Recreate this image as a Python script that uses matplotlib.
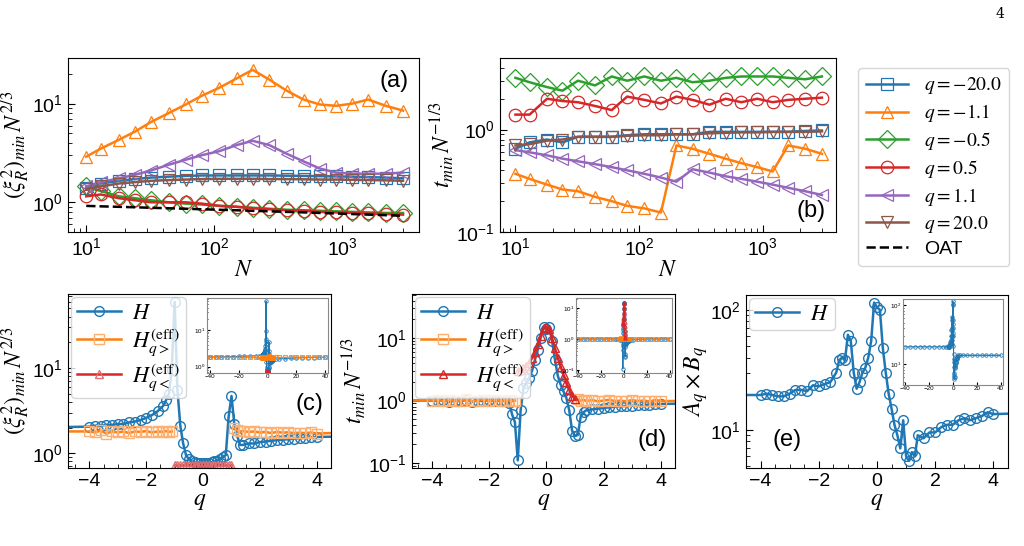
import numpy as np
import matplotlib
matplotlib.use("Agg")
import matplotlib.pyplot as plt

plt.rcParams['font.family'] = ['Liberation Sans', 'DejaVu Sans']
plt.rcParams['mathtext.fontset'] = 'stix'

# ---------------- data: top panels ----------------
N = [10, 13, 18, 24, 32, 44, 60, 80, 110, 150, 200, 270, 370, 500, 670, 900, 1200, 1600, 2200, 3000]
q_labels = ["$q=-20.0$", "$q=-1.1$", "$q=-0.5$", "$q=0.5$", "$q=1.1$", "$q=20.0$"]
markers = ['s', '^', 'D', 'o', '<', 'v']
colors = ['C0', 'C1', 'C2', 'C3', 'C4', 'C5']

xi_m20 = [1.4, 1.55, 1.65, 1.72, 1.78, 1.82, 1.85, 1.87, 1.87, 1.87, 1.87, 1.87, 1.86, 1.85, 1.84, 1.83, 1.82, 1.8, 1.78, 1.75]
xi_m11 = [2.9, 3.5, 4.3, 5.2, 6.5, 8.0, 9.8, 12, 14.5, 18, 22, 17.5, 13.5, 11, 9.8, 9.5, 10, 11, 9.5, 8.5]
xi_m05 = [1.45, 1.3, 1.15, 1.1, 1.05, 1.0, 0.97, 0.95, 0.92, 0.9, 0.88, 0.86, 0.84, 0.83, 0.82, 0.81, 0.8, 0.79, 0.78, 0.78]
xi_p05 = [1.15, 1.2, 1.1, 1.05, 1.0, 1.0, 1.0, 0.97, 0.92, 0.9, 0.87, 0.85, 0.83, 0.82, 0.8, 0.79, 0.78, 0.77, 0.76, 0.75]
xi_p11 = [1.45, 1.6, 1.75, 1.9, 2.1, 2.4, 2.7, 3.0, 3.3, 3.8, 4.2, 3.8, 3.1, 2.6, 2.2, 2.0, 1.95, 1.95, 1.95, 2.0]
xi_p20 = [1.35, 1.45, 1.55, 1.6, 1.65, 1.68, 1.7, 1.72, 1.73, 1.73, 1.73, 1.72, 1.72, 1.71, 1.7, 1.7, 1.69, 1.68, 1.67, 1.65]
xi_oat = [0.92, 0.91, 0.9, 0.89, 0.88, 0.87, 0.86, 0.85, 0.84, 0.83, 0.82, 0.81, 0.8, 0.79, 0.78, 0.77, 0.76, 0.75, 0.74, 0.73]

t_m20 = [0.65, 0.75, 0.8, 0.75, 0.85, 0.85, 0.85, 0.88, 0.9, 0.9, 0.9, 0.9, 0.95, 0.95, 0.95, 0.95, 0.95, 0.95, 0.97, 0.98]
t_m11 = [0.37, 0.33, 0.29, 0.26, 0.25, 0.22, 0.2, 0.18, 0.17, 0.155, 0.7, 0.65, 0.58, 0.52, 0.47, 0.43, 0.39, 0.7, 0.65, 0.58]
t_m05 = [3.2, 2.9, 2.6, 2.4, 3.0, 2.7, 3.3, 3.0, 3.3, 3.0, 3.2, 2.9, 3.0, 3.2, 3.3, 3.3, 3.3, 3.2, 3.1, 3.3]
t_p05 = [1.4, 1.4, 2.0, 1.9, 1.85, 1.7, 1.55, 2.1, 1.95, 1.8, 2.1, 1.95, 1.75, 2.0, 1.85, 2.0, 1.85, 1.95, 2.0, 2.05]
t_p11 = [0.63, 0.6, 0.56, 0.52, 0.49, 0.46, 0.43, 0.40, 0.37, 0.34, 0.31, 0.41, 0.38, 0.35, 0.33, 0.31, 0.29, 0.27, 0.25, 0.23]
t_p20 = [0.7, 0.72, 0.78, 0.8, 0.85, 0.85, 0.85, 0.87, 0.88, 0.88, 0.9, 0.9, 0.92, 0.93, 0.94, 0.94, 0.95, 0.95, 0.95, 0.96]

# ---------------- data: bottom panels ----------------
q = [-4.0, -3.8, -3.6, -3.4, -3.2, -3.0, -2.8, -2.6, -2.4, -2.2, -2.0, -1.8, -1.6, -1.4,
     -1.3, -1.2, -1.1, -1.0, -0.9, -0.8, -0.7, -0.6, -0.5, -0.4, -0.3, -0.2, -0.1, 0.0,
     0.1, 0.2, 0.3, 0.4, 0.5, 0.6, 0.7, 0.8, 0.9, 1.0, 1.1, 1.2, 1.3,
     1.4, 1.6, 1.8, 2.0, 2.2, 2.4, 2.6, 2.8, 3.0, 3.2, 3.4, 3.6, 3.8, 4.0]
q_out_l = [-40, -36, -32, -28, -24, -20, -16, -12, -8, -6]
q_out_r = [6, 8, 12, 16, 20, 24, 28, 32, 36, 40]

# (c)
xiH = [2.05, 2.1, 2.1, 2.15, 2.15, 2.2, 2.2, 2.3, 2.35, 2.45, 2.6, 2.8, 3.1, 3.6,
       4.2, 5.0, 9.5, 60, 5.5, 2.1, 1.3, 0.95, 0.85, 0.8, 0.78, 0.77, 0.77, 0.77,
       0.77, 0.77, 0.78, 0.8, 0.82, 0.85, 0.9, 0.95, 2.7, 4.7, 2.2, 1.6, 1.25,
       1.25, 1.3, 1.3, 1.35, 1.37, 1.4, 1.42, 1.44, 1.46, 1.48, 1.5, 1.52, 1.54, 1.55]
xiH_l = [1.82, 1.83, 1.84, 1.86, 1.88, 1.9, 1.92, 1.95, 1.98, 2.0]
xiH_r = [1.6, 1.63, 1.66, 1.69, 1.72, 1.74, 1.76, 1.77, 1.78, 1.79]
xiG = [1.8, 1.75, 1.85, 1.7, 1.8, 1.75, 1.8, 1.72, 1.8, 1.78, 1.82, 1.75, 1.8, 1.78,
       1.82, 1.78, 1.8, np.nan, np.nan, np.nan, np.nan, np.nan, np.nan, np.nan, np.nan, np.nan, np.nan, np.nan,
       np.nan, np.nan, np.nan, np.nan, np.nan, np.nan, np.nan, np.nan, np.nan, np.nan, 1.95, 1.85, 1.8,
       1.82, 1.78, 1.8, 1.75, 1.78, 1.72, 1.78, 1.74, 1.76, 1.72, 1.74, 1.72, 1.75, 1.7]
xiG_l = [1.8] * 10
xiG_r = [1.8, 1.79, 1.8, 1.8, 1.8, 1.8, 1.8, 1.8, 1.8, 1.8]
xiL = [np.nan] * 17 + [0.72] * 21 + [np.nan] * 17

# (d)
tH = [1.0, 0.98, 1.02, 0.95, 1.0, 0.97, 1.03, 0.96, 1.0, 0.98, 1.02, 0.97, 1.0, 0.98,
      0.93, 0.6, 0.45, 0.11, 0.7, 1.6, 1.9, 2.3, 3.0, 4.5, 6.5, 10, 15, 14,
      15, 9, 4.5, 2.5, 1.8, 1.4, 1.1, 0.7, 0.33, 0.27, 0.28, 0.55, 0.65,
      0.7, 0.72, 0.74, 0.76, 0.78, 0.8, 0.81, 0.82, 0.83, 0.84, 0.85, 0.86, 0.87, 0.88]
tH_l = [1.0] * 10
tH_r = [0.92, 0.95, 0.97, 0.98, 0.99, 1.0, 1.0, 1.0, 1.0, 1.0]
tG = [1.0, 1.02, 0.97, 1.03, 0.98, 1.0, 1.04, 0.97, 1.0, 1.03, 0.98, 1.02, 0.97, 1.0,
      1.02, 0.98, 1.0, np.nan, np.nan, np.nan, np.nan, np.nan, np.nan, np.nan, np.nan, np.nan, np.nan, np.nan,
      np.nan, np.nan, np.nan, np.nan, np.nan, np.nan, np.nan, np.nan, np.nan, np.nan, 1.05, 1.0, 1.03,
      0.98, 1.02, 0.97, 1.0, 1.03, 0.98, 1.0, 0.97, 1.02, 0.98, 1.0, 0.97, 1.0, 0.98]
tG_l = [1.0] * 10
tG_r = [1.0] * 10
tL = [np.nan] * 17 + [3.0, 3.1, 3.3, 3.6, 4.0, 4.8, 6.0, 8.0, 11, 14.5, 15,
                      14, 10, 7, 4.8, 3.5, 2.6, 2.0, 1.5, 1.2, 1.05] + [np.nan] * 17

# (e)
AB = [19.5, 20, 19.5, 19, 19, 20, 21.5, 21.5, 21, 23.5, 23, 24, 25, 30,
      38, 40, 38, 62, 55, 30, 22, 25, 30, 33, 40, 55, 115, 105,
      100, 48, 30, 20, 15, 11, 9, 7, 12, 6, 5.5, 6.5, 6.0,
      9, 8.5, 9.5, 9.5, 10.5, 11, 11, 12, 12.5, 12, 12.5, 13, 14, 13.5]
AB_l = [19.5] * 10
AB_r = [14, 14, 14, 14, 14, 14, 14, 14, 14, 14]

# ---------------- figure ----------------
W, H = 1024, 546
fig = plt.figure(figsize=(W / 100, H / 100), dpi=100)
TFS = 14
LFS = 17

def ax_px(x0, y0, x1, y1):
    return fig.add_axes([x0 / W, 1 - y1 / H, (x1 - x0) / W, (y1 - y0) / H])

def style(ax, fs=TFS):
    ax.tick_params(which='both', direction='in', labelsize=fs)
    ax.tick_params(which='major', length=5)
    ax.tick_params(which='minor', length=3)

# (a)
axa = ax_px(68, 58, 419, 232)
xi_all = [xi_m20, xi_m11, xi_m05, xi_p05, xi_p11, xi_p20]
for y, m, c, lab in zip(xi_all, markers, colors, q_labels):
    axa.plot(N, y, color=c, lw=1.8, marker=m, mfc='none', ms=9, mew=0.9, label=lab)
axa.plot(N, xi_oat, 'k--', lw=1.8, label='OAT')
axa.set_xscale('log'); axa.set_yscale('log')
axa.set_xlim(7.2, 4000); axa.set_ylim(0.5, 29)
axa.set_xlabel('$N$', fontsize=LFS, labelpad=0)
axa.set_ylabel(r'$(\xi_R^2)_{min}\,N^{2/3}$', fontsize=LFS, labelpad=0)
axa.text(0.97, 0.93, '(a)', transform=axa.transAxes, ha='right', va='top', fontsize=17)
style(axa)

# (b)
axb = ax_px(500, 58, 836, 232)
t_all = [t_m20, t_m11, t_m05, t_p05, t_p11, t_p20]
for y, m, c, lab in zip(t_all, markers, colors, q_labels):
    axb.plot(N, y, color=c, lw=1.8, marker=m, mfc='none', ms=9, mew=0.9, label=lab)
axb.plot([], [], 'k--', lw=1.8, label='OAT')
axb.set_xscale('log'); axb.set_yscale('log')
axb.set_xlim(7.5, 3900); axb.set_ylim(0.1, 5)
axb.set_xlabel('$N$', fontsize=LFS, labelpad=0)
axb.set_ylabel(r'$t_{min}\,N^{-1/3}$', fontsize=LFS, labelpad=0)
axb.text(0.97, 0.06, '(b)', transform=axb.transAxes, ha='right', va='bottom', fontsize=17)
style(axb)
h, l = axb.get_legend_handles_labels()
leg = fig.legend(h, l, loc='upper left', bbox_to_anchor=(848 / W, 1 - 58 / H), fontsize=14,
                 handlelength=2.2, labelspacing=0.3, borderpad=0.4, fancybox=True)
leg.get_frame().set_edgecolor('#cccccc')

def bottom(ax, ylab, xlim):
    ax.set_yscale('log')
    ax.set_xlim(*xlim)
    ax.set_xticks([-4, -2, 0, 2, 4])
    ax.set_xticks(np.arange(-4.5, 4.6, 0.5), minor=True)
    ax.set_xlabel('$q$', fontsize=LFS, labelpad=0)
    ax.set_ylabel(ylab, fontsize=LFS, labelpad=0)
    style(ax)

def inset(x0, y0, x1, y1, series, ylim):
    ia = ax_px(x0, y0, x1, y1)
    for qq, yy, c, m in series:
        ia.plot(qq, yy, color=c, marker=m, mfc='none', ms=2.5, lw=0.8, mew=0.6)
    ia.set_yscale('log'); ia.set_xlim(-42, 42); ia.set_ylim(*ylim)
    ia.set_xticks([-40, -20, 0, 20, 40])
    ia.tick_params(which='both', direction='in', labelsize=4.5, length=2, pad=1)
    ia.tick_params(which='minor', length=1)
    for s in ia.spines.values():
        s.set_color('#888888')
    return ia

def legend(ax):
    lg = ax.legend(loc='upper left', fontsize=16, handlelength=2.0, labelspacing=0.15,
                   borderpad=0.25, borderaxespad=0.15, handletextpad=0.5)
    lg.get_frame().set_edgecolor('#cccccc')

qw = q_out_l + q + q_out_r
Hlab = [r'$H$', r'$H^{(\mathrm{eff})}_{q>}$', r'$H^{(\mathrm{eff})}_{q<}$']

# (c)
axc = ax_px(68, 294, 331, 468)
axc.plot(qw, xiH_l + xiH + xiH_r, color='C0', lw=1.8, marker='o', mfc='none', ms=7, label=Hlab[0])
axc.plot(qw, xiG_l + xiG + xiG_r, color='C1', lw=1.8, marker='s', mfc='none', ms=7, mec='#ffb070', label=Hlab[1])
axc.plot(q, xiL, color='C3', lw=1.8, marker='^', mfc='none', ms=6, mec='#e07070', label=Hlab[2])
axc.set_ylim(0.67, 74)
bottom(axc, r'$(\xi_R^2)_{min}\,N^{2/3}$', (-4.75, 4.3))
legend(axc)
axc.text(0.97, 0.37, '(c)', transform=axc.transAxes, ha='right', va='center', fontsize=17)
inset(207, 298, 328, 373, [(qw, xiH_l + xiH + xiH_r, 'C0', 'o'),
                          (qw, xiG_l + xiG + xiG_r, 'C1', 's'),
                          (q, xiL, 'C3', '^')], (0.67, 74))

# (d)
axd = ax_px(412, 294, 675, 468)
axd.plot(qw, tH_l + tH + tH_r, color='C0', lw=1.8, marker='o', mfc='none', ms=7, label=Hlab[0])
axd.plot(qw, tG_l + tG + tG_r, color='C1', lw=1.8, marker='s', mfc='none', ms=7, mec='#ffb070', label=Hlab[1])
axd.plot(q, tL, color='C3', lw=1.8, marker='^', mfc='none', ms=6, label=Hlab[2])
axd.set_ylim(0.083, 51)
bottom(axd, r'$t_{min}\,N^{-1/3}$', (-4.7, 4.5))
legend(axd)
axd.text(0.97, 0.1, '(d)', transform=axd.transAxes, ha='right', va='bottom', fontsize=17)
inset(576, 298, 672, 373, [(qw, tH_l + tH + tH_r, 'C0', 'o'),
                          (qw, tG_l + tG + tG_r, 'C1', 's'),
                          (q, tL, 'C3', '^')], (0.08, 21))

# (e)
axe = ax_px(746, 295, 1008, 468)
axe.plot(qw, AB_l + AB + AB_r, color='C0', lw=1.8, marker='o', mfc='none', ms=7, label=Hlab[0])
axe.set_ylim(4.8, 133)
bottom(axe, r'$A_q\times B_q$', (-4.5, 4.5))
legend(axe)
axe.text(0.1, 0.1, '(e)', transform=axe.transAxes, ha='left', va='bottom', fontsize=17)
inset(903, 299, 1003, 385, [(qw, AB_l + AB + AB_r, 'C0', 'o')], (4.4, 126))

fig.text(1000 / W, 1 - 14 / H, '4', fontsize=10, family='DejaVu Serif', ha='center', va='center')

fig.savefig('out.png', dpi=100)
